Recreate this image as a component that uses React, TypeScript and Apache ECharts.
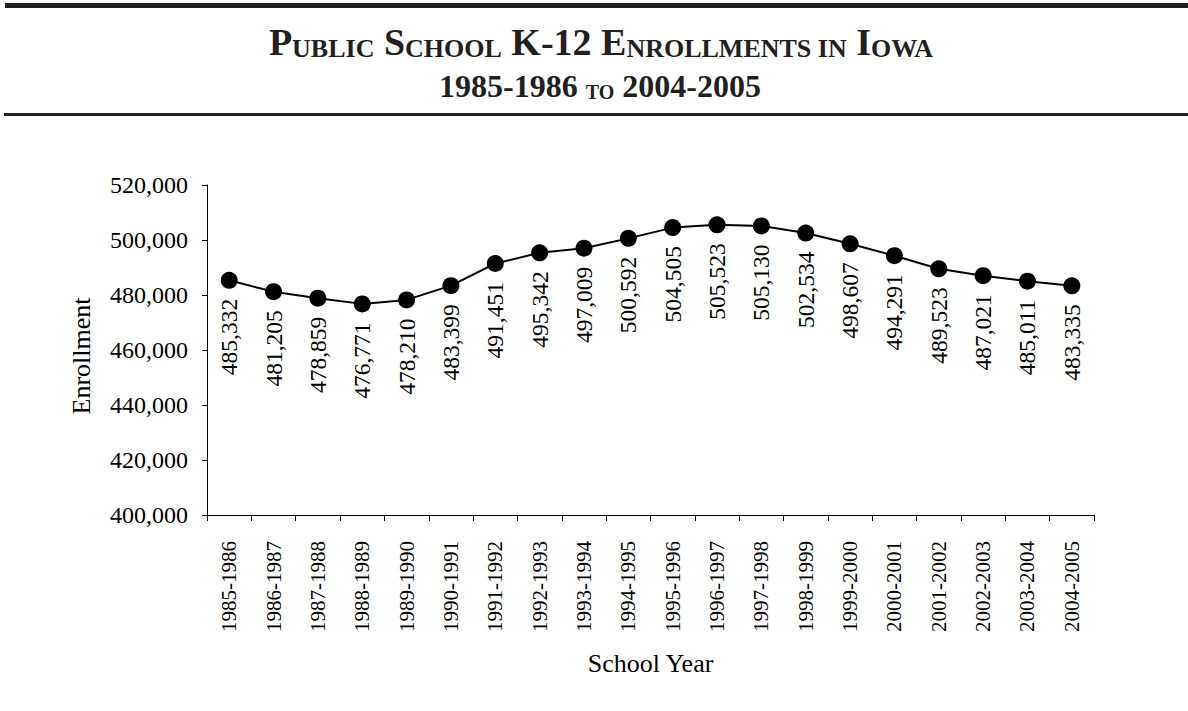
import React, { useEffect, useRef } from "react";
import * as echarts from "echarts";

const schoolYears = [
  "1985-1986", "1986-1987", "1987-1988", "1988-1989", "1989-1990",
  "1990-1991", "1991-1992", "1992-1993", "1993-1994", "1994-1995",
  "1995-1996", "1996-1997", "1997-1998", "1998-1999", "1999-2000",
  "2000-2001", "2001-2002", "2002-2003", "2003-2004", "2004-2005",
];

const enrollments = [
  485332, 481205, 478859, 476771, 478210,
  483399, 491451, 495342, 497009, 500592,
  504505, 505523, 505130, 502534, 498607,
  494291, 489523, 487021, 485011, 483335,
];

const yMin = 400000;
const yMax = 520000;
const yStep = 20000;

const titleLine1 = "{b|P}{s|UBLIC}{b| S}{s|CHOOL}{b| K-12 E}{s|NROLLMENTS IN}{b| I}{s|OWA}";
const titleLine2 = "{b|1985-1986 }{s|TO}{b| 2004-2005}";

const SERIF = "'Liberation Serif', 'Times New Roman', serif";
const INK = "#231f20";

const fmt = (v: number) => v.toLocaleString("en-US");

export default function App() {
  const ref = useRef<HTMLDivElement>(null);

  useEffect(() => {
    if (!ref.current) return;
    const chart = echarts.init(ref.current, null, { renderer: "svg" });
    chart.setOption({
      animation: false,
      backgroundColor: "#ffffff",
      textStyle: { fontFamily: SERIF, color: "#000" },
      graphic: [
        { type: "rect", shape: { x: 5, y: 3, width: 1183, height: 5 }, style: { fill: INK } },
        { type: "rect", shape: { x: 4, y: 113, width: 1184, height: 3 }, style: { fill: INK } },
        {
          type: "text",
          x: 601,
          y: 61,
          style: {
            text: titleLine1,
            align: "center",
            verticalAlign: "bottom",
            fill: INK,
            font: `bold 38px ${SERIF}`,
            rich: {
              b: { fontSize: 38, fontWeight: "bold", fontFamily: SERIF, lineHeight: 38, verticalAlign: "bottom", fill: INK },
              s: { fontSize: 26, fontWeight: "bold", fontFamily: SERIF, lineHeight: 30, verticalAlign: "bottom", fill: INK },
            },
          },
        },
        {
          type: "text",
          x: 600,
          y: 102,
          style: {
            text: titleLine2,
            align: "center",
            verticalAlign: "bottom",
            fill: INK,
            font: `bold 32px ${SERIF}`,
            rich: {
              b: { fontSize: 32, fontWeight: "bold", fontFamily: SERIF, lineHeight: 32, verticalAlign: "bottom", fill: INK },
              s: { fontSize: 20, fontWeight: "bold", fontFamily: SERIF, lineHeight: 24, verticalAlign: "bottom", fill: INK },
            },
          },
        },
      ],
      grid: { left: 207, right: 94, top: 185, bottom: 196, containLabel: false },
      xAxis: {
        type: "category",
        data: schoolYears,
        boundaryGap: true,
        name: "School Year",
        nameLocation: "middle",
        nameGap: 135,
        nameTextStyle: { fontFamily: SERIF, fontSize: 26, color: "#000" },
        axisLine: { show: true, lineStyle: { color: "#000", width: 1 } },
        axisTick: { show: true, alignWithLabel: false, length: 6, lineStyle: { color: "#000" } },
        axisLabel: { rotate: 90, margin: 26, fontFamily: SERIF, fontSize: 21, color: "#000", interval: 0 },
        splitLine: { show: false },
      },
      yAxis: {
        type: "value",
        min: yMin,
        max: yMax,
        interval: yStep,
        name: "Enrollment",
        nameLocation: "middle",
        nameGap: 113,
        nameRotate: 90,
        nameTextStyle: { fontFamily: SERIF, fontSize: 26, color: "#000", padding: [0, 12, 0, 0] },
        axisLine: { show: true, lineStyle: { color: "#000", width: 1 } },
        axisTick: { show: true, length: 5, lineStyle: { color: "#000" } },
        axisLabel: { margin: 19, fontFamily: SERIF, fontSize: 24, color: "#000", formatter: (v: number) => fmt(v) },
        splitLine: { show: false },
      },
      series: [
        {
          type: "line",
          data: enrollments,
          symbol: "circle",
          symbolSize: 17,
          lineStyle: { color: "#000", width: 2 },
          itemStyle: { color: "#000" },
          label: {
            show: true,
            position: "bottom",
            distance: 10,
            rotate: 90,
            align: "right",
            verticalAlign: "middle",
            fontFamily: SERIF,
            fontSize: 23.5,
            color: "#000",
            formatter: (p: any) => fmt(p.value),
          },
        },
      ],
    });
    return () => chart.dispose();
  }, []);

  return (
    <div
      ref={ref}
      style={{ position: "absolute", left: 0, top: 0, width: 1188, height: 711 }}
    />
  );
}
